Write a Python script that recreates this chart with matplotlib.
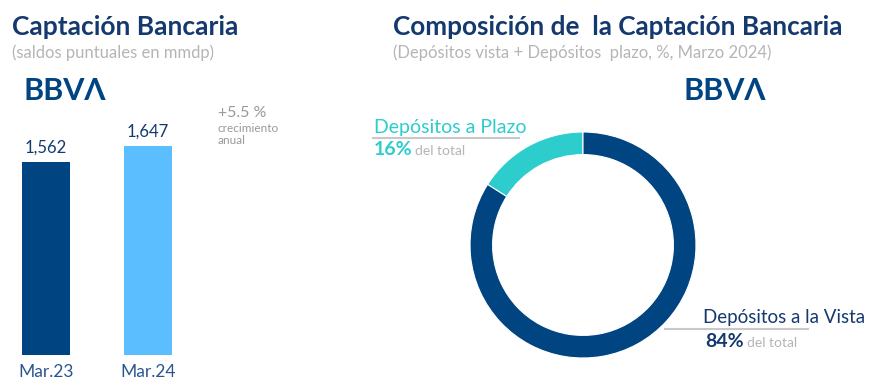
import matplotlib
matplotlib.use("Agg")
import matplotlib.pyplot as plt

# data
periods = ["Mar.23", "Mar.24"]
balances = [1562, 1647]
balance_labels = ["1,562", "1,647"]
growth_label = "+5.5 %"
mix_names = ["Depósitos a Plazo", "Depósitos a la Vista"]
mix_shares = [16, 84]

NAVY = "#004481"
TXT = "#14396f"
LIGHT = "#5bbeff"
AQUA = "#2dcccd"
GREY = "#b5b5b5"

plt.rcParams["font.family"] = ["Lato", "DejaVu Sans"]

W, H = 876, 387
fig = plt.figure(figsize=(W / 100, H / 100), dpi=100)


def fx(x):
    return x / W


def fy(y):
    return 1 - y / H


def txt(x, y, s, **kw):
    kw.setdefault("va", "baseline")
    fig.text(fx(x), fy(y), s, **kw)


# left panel: bars
ax = fig.add_axes([fx(0), fy(355), fx(200), (355 - 100) / H])
ax.bar([0, 1], balances, width=0.47, color=[NAVY, LIGHT])
ax.set_xlim(-46 / 102, 154 / 102)
ax.set_ylim(537, 1891)
ax.axis("off")
for i, (v, lab) in enumerate(zip(balances, balance_labels)):
    ax.annotate(lab, (i, v), xytext=(0, 9), textcoords="offset pixels",
                ha="center", va="baseline", fontsize=12, color=TXT)
    ax.annotate(periods[i], (i, 537), xytext=(0, -22), textcoords="offset pixels",
                ha="center", va="baseline", fontsize=12.5, color="#2a5590")

txt(12, 35, "Captación Bancaria", fontsize=19, fontweight="bold", color=TXT)
txt(12, 58, "(saldos puntuales en mmdp)", fontsize=12, color=GREY)
txt(23, 100, "BBVΛ", fontsize=22, fontweight="bold", color=NAVY)
txt(218, 117, growth_label, fontsize=11.5, color="#999999")
txt(218, 132, "crecimiento", fontsize=8.5, color="#999999")
txt(218, 144, "anual", fontsize=8.5, color="#999999")

# right panel: donut
r = 113
ax2 = fig.add_axes([fx(583 - 1.1 * r), fy(245 + 1.1 * r), 2.2 * r / W, 2.2 * r / H])
ax2.pie(mix_shares, colors=[AQUA, NAVY], startangle=90, radius=1,
        wedgeprops=dict(width=0.2, edgecolor="white", linewidth=0.8))
ax2.set_xlim(-1.1, 1.1)
ax2.set_ylim(-1.1, 1.1)
ax2.set_aspect("auto")

txt(393, 35, "Composición de  la Captación Bancaria", fontsize=18.8, fontweight="bold", color=TXT)
txt(393, 58, "(Depósitos vista + Depósitos  plazo, %, Marzo 2024)", fontsize=12, color=GREY)
txt(684, 100, "BBVΛ", fontsize=22, fontweight="bold", color=NAVY)

# labels with leader lines
fig.add_artist(plt.Line2D([fx(373), fx(519)], [fy(138), fy(138)], color="#c8c8c8", lw=1.5))
txt(374, 133, mix_names[0], fontsize=14, color=AQUA)
txt(374, 155, f"{mix_shares[0]}%", fontsize=14, fontweight="bold", color=AQUA)
txt(415, 155, "del total", fontsize=10, color=GREY)

fig.add_artist(plt.Line2D([fx(665), fx(808)], [fy(329), fy(329)], color="#c8c8c8", lw=1.5))
txt(703, 323, mix_names[1], fontsize=13.5, color=TXT)
txt(705, 347, f"{mix_shares[1]}%", fontsize=14, fontweight="bold", color=TXT)
txt(747, 347, "del total", fontsize=10, color=GREY)

fig.savefig("out.png", dpi=100)
